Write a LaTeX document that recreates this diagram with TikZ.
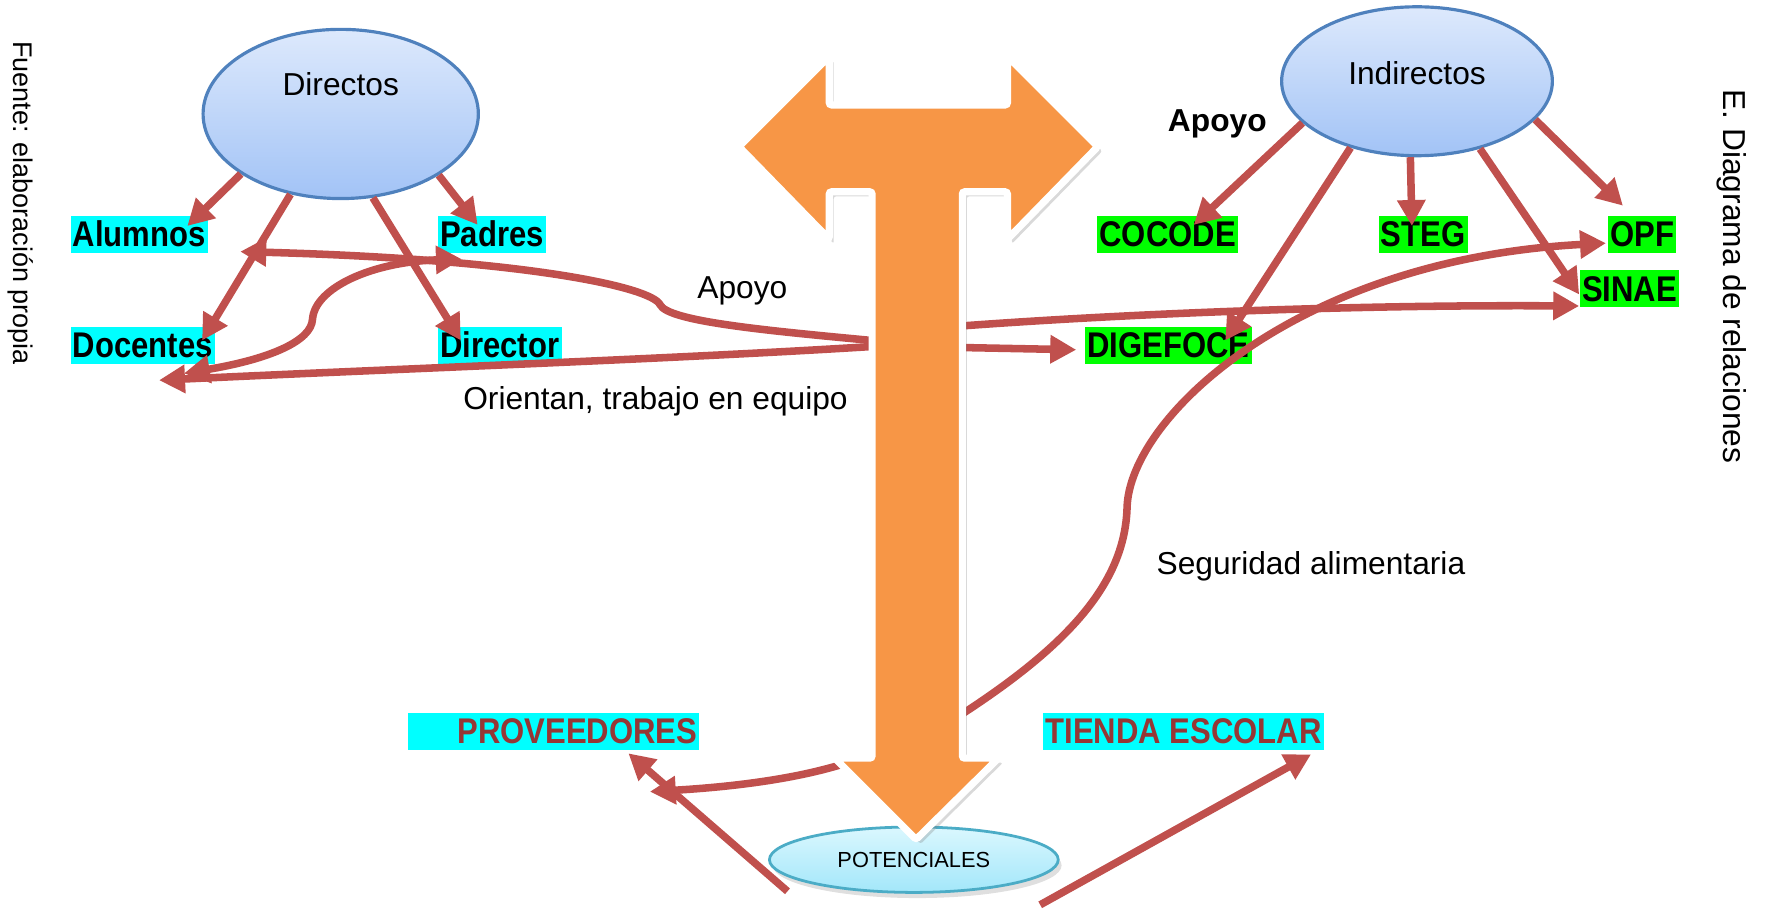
\documentclass[tikz,border=0pt]{standalone}
\usepackage{fontspec}
\setmainfont{Liberation Sans}
\newfontfamily\lblfont[FakeStretch=0.87]{Liberation Sans}
\usepackage{xcolor}
\usetikzlibrary{shapes.geometric,arrows.meta,calc,shadows}

\definecolor{relred}{HTML}{C0504D}
\definecolor{torange}{HTML}{F79646}
\definecolor{cyanbox}{HTML}{00FFFF}
\definecolor{greenbox}{HTML}{00FF00}
\definecolor{provred}{HTML}{953735}
\definecolor{grptop}{HTML}{DDE9FC}
\definecolor{grpbot}{HTML}{A2C3F6}
\definecolor{grpline}{HTML}{4F81BD}
\definecolor{pottop}{HTML}{DAF7FE}
\definecolor{potbot}{HTML}{A3E7FA}
\definecolor{potline}{HTML}{4BACC6}

\begin{document}
\begin{tikzpicture}[x=0.1mm, y=-0.1mm, >={Triangle[length=2.3mm,width=2.4mm]}]
    \tikzstyle{grupo} = [ellipse, draw=grpline, line width=0.8pt, top color=grptop, bottom color=grpbot]
    \tikzstyle{actor} = [fill=cyanbox, font=\lblfont\bfseries\fontsize{9}{9}\selectfont, inner xsep=0.2mm, inner ysep=0pt, minimum height=3.3mm]
    \tikzstyle{inst} = [actor, fill=greenbox]
    \tikzstyle{txt} = [font=\fontsize{8}{9}\selectfont, inner sep=0pt]
    \tikzstyle{rel} = [draw=relred, line width=1.9pt, ->]

    \useasboundingbox (0,0) rectangle (1568,812);

    % grupos
    \node [grupo, minimum width=24.4mm, minimum height=15mm, label={[txt, yshift=2.6mm]center:Directos}] (dir) at (302,101) {};
    \node [grupo, minimum width=24mm, minimum height=13.2mm, label={[txt, yshift=0.7mm]center:Indirectos}] (ind) at (1256,72) {};

    % actores directos
    \node [actor] (alum) at (123.5,207.5) {Alumnos};
    \node [actor] (pad) at (436,207.5) {Padres};
    \node [actor] (doc) at (126.5,306) {Docentes};
    \node [actor] (dirc) at (443,306) {Director};

    % instituciones
    \node [inst] (coc) at (1035,207.5) {COCODE};
    \node [inst] (steg) at (1261.5,207.5) {STEG};
    \node [inst] (opf) at (1455.5,207.5) {OPF};
    \node [inst] (sin) at (1444.5,256) {SINAE};
    \node [inst] (dig) at (1035.5,306) {DIGEFOCE};

    % potenciales
    \node [actor, text=provred, text width=25.4mm, align=right] (prov) at (491,648.5) {PROVEEDORES};
    \node [actor, text=provred] (tienda) at (1049,648.5) {TIENDA ESCOLAR};
    \node [ellipse, draw=potline, line width=0.7pt, top color=pottop, bottom color=potbot, minimum width=25.6mm, minimum height=5.8mm, font=\fontsize{5.5}{6}\selectfont, drop shadow={opacity=0.25, shadow xshift=0.3mm, shadow yshift=-0.5mm}] (pot) at (810,762) {POTENCIALES};

    % textos
    \node [txt] (apoyoA) at (658,258) {Apoyo};
    \node [txt] (orient) at (581,356) {Orientan, trabajo en equipo};
    \node [txt] (segur) at (1162,502) {Seguridad alimentaria};
    \node [txt, font=\bfseries\fontsize{8}{9}\selectfont] (apoyoB) at (1079,110) {Apoyo};
    \node [txt, font=\fontsize{6.8}{8}\selectfont, rotate=-90] (fuente) at (18,180) {Fuente: elaboración propia};
    \node [txt, rotate=-90] (titulo) at (1535,245) {E. Diagrama de relaciones};

    % extremos libres
    \coordinate (apoyoL) at (775,302);
    \coordinate (orientL) at (775,307);
    \coordinate (sinaeR) at (851,289);
    \coordinate (digR) at (851,308);
    \coordinate (segR) at (851,634);
    \coordinate (provT) at (748,677);
    \coordinate (potL) at (698,790);
    \coordinate (potR) at (922,802);
    \coordinate (sLeft) at (163,331);
    \coordinate (orientTip) at (141,337);
    \coordinate (apoyoTip) at (213,223);

    % directos
    \draw [rel] (dir.211) -- ($(alum.north east)+(-19,10)$);
    \draw [rel] (dir.238) -- ($(doc.north east)+(-12,13)$);
    \draw [rel] (dir.291) -- ($(dirc.north west)+(21,13)$);
    \draw [rel] (dir.328) -- ($(pad.north west)+(36,9)$);

    % indirectos
    \draw [rel] (ind.200) -- ($(coc.north east)+(-40,9)$);
    \draw [rel] (ind.225) -- ($(dig.north east)+(-24,13)$);
    \draw [rel] (ind.265) -- ($(steg.north)+(-10,10)$);
    \draw [rel] (ind.313) -- ($(sin.west)+(0,5)$);
    \draw [rel] (ind.342) -- ($(opf.north west)+(14,-8)$);

    % relaciones desde el centro
    \draw [rel] (apoyoL) .. controls (680,293) and (592,285) .. (585,270) .. controls (578,255) and (470,230) .. (apoyoTip);
    \draw [rel] (orientL) .. controls (600,318) and (350,327) .. (orientTip);
    \draw [rel, <->] (sLeft) .. controls (240,318) and (276,302) .. (277,283) .. controls (279,255) and (330,232) .. ($(pad.south west)+(22,5)$);
    \draw [rel] (sinaeR) .. controls (1000,278) and (1200,270) .. ($(sin.south west)+(0,-2)$);
    \draw [rel] (digR) -- ($(dig.west)+(-7,4)$);
    \draw [rel] (segR) .. controls (950,570) and (997,515) .. (999,450) .. controls (1001,370) and (1150,230) .. ($(opf.west)+(-1,8)$);
    \draw [rel] (provT) .. controls (700,692) and (640,698) .. ($(prov.south)+(85,36)$);
    \draw [rel] (potL) -- ($(prov.south)+(66,2)$);
    \draw [rel] (potR) -- ($(tienda.south east)+(-12,3)$);

    % flecha central
    \draw [fill=torange, draw=white, line width=1.8pt, rounded corners=0.6pt, drop shadow={opacity=0.3, shadow xshift=0.4mm, shadow yshift=-0.4mm}]
        (655,130) -- (735,50) -- (735,93) -- (893,93) -- (893,50) -- (973,130) -- (893,212) -- (893,170) -- (853,170)
        -- (853,672) -- (885,672) -- (812,744) -- (740,672) -- (773,672) -- (773,170) -- (735,170) -- (735,212) -- cycle;
\end{tikzpicture}
\end{document}
